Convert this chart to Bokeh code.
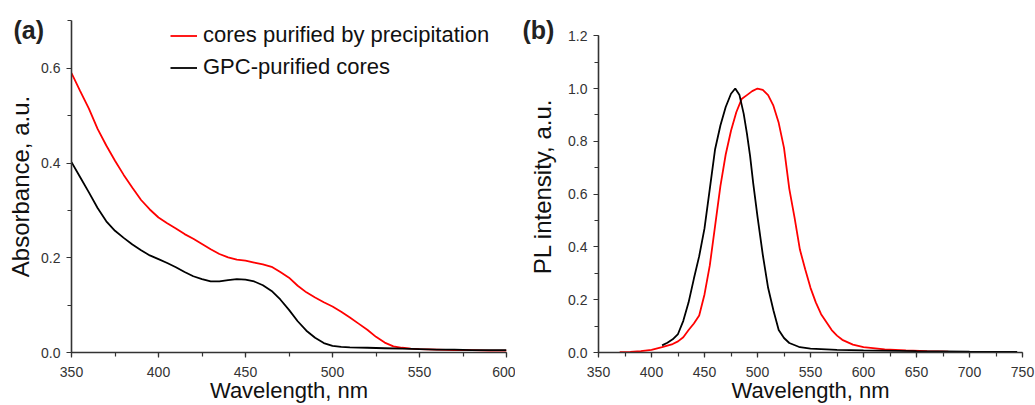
from bokeh.plotting import figure
from bokeh.models import Title, SingleIntervalTicker, PrintfTickFormatter, Range1d
from bokeh.layouts import row
from bokeh.embed import file_html
from bokeh.resources import INLINE

# ---- (a) absorbance ----
abs_wl_precip = [350, 355, 360, 365, 370, 375, 380, 385, 390, 395, 400, 405, 410, 415, 420, 425, 430, 435,
                 440, 445, 450, 455, 460, 465, 470, 475, 480, 485, 490, 495, 500, 505, 510, 515, 520, 525,
                 530, 535, 540, 545, 550, 560, 570, 580, 590, 600]
abs_precip = [0.590, 0.552, 0.515, 0.472, 0.437, 0.405, 0.375, 0.348, 0.322, 0.302, 0.285, 0.273, 0.262, 0.250,
              0.240, 0.229, 0.218, 0.208, 0.201, 0.196, 0.194, 0.190, 0.186, 0.181, 0.170, 0.158, 0.141, 0.127,
              0.116, 0.106, 0.097, 0.086, 0.074, 0.061, 0.048, 0.033, 0.021, 0.013, 0.010, 0.008, 0.007, 0.006,
              0.005, 0.005, 0.004, 0.004]

abs_wl_gpc = [350, 355, 360, 365, 370, 375, 380, 385, 390, 395, 400, 405, 410, 415, 420, 425, 430, 435, 440,
              445, 450, 455, 460, 465, 470, 475, 480, 485, 490, 495, 500, 505, 510, 520, 530, 540, 550, 560,
              570, 580, 590, 600]
abs_gpc = [0.402, 0.370, 0.338, 0.305, 0.277, 0.257, 0.242, 0.228, 0.216, 0.205, 0.197, 0.189, 0.180, 0.170,
           0.161, 0.155, 0.150, 0.150, 0.153, 0.155, 0.154, 0.150, 0.142, 0.130, 0.112, 0.090, 0.066, 0.046,
           0.031, 0.020, 0.014, 0.012, 0.011, 0.010, 0.009, 0.008, 0.007, 0.006, 0.006, 0.005, 0.005, 0.005]

# ---- (b) photoluminescence ----
pl_wl_gpc = [410, 415, 420, 425, 430, 435, 440, 445, 450, 455, 460, 465, 470, 475, 479, 483, 487, 490, 493,
             496, 500, 505, 510, 515, 520, 525, 530, 540, 550, 575, 600, 650, 700, 745]
pl_gpc = [0.027, 0.037, 0.050, 0.070, 0.120, 0.190, 0.280, 0.365, 0.470, 0.620, 0.770, 0.860, 0.930, 0.980,
          1.000, 0.975, 0.904, 0.830, 0.745, 0.640, 0.515, 0.370, 0.245, 0.160, 0.085, 0.055, 0.036, 0.020,
          0.015, 0.010, 0.008, 0.005, 0.003, 0.002]

pl_wl_precip = [370, 380, 390, 400, 410, 420, 425, 430, 435, 440, 445, 450, 455, 460, 465, 470, 475, 480, 485,
                490, 495, 500, 505, 510, 515, 520, 525, 530, 535, 540, 545, 550, 555, 560, 570, 575, 580, 590,
                600, 620, 640, 660, 680, 700]
pl_precip = [0.001, 0.002, 0.005, 0.010, 0.020, 0.032, 0.042, 0.058, 0.085, 0.110, 0.140, 0.220, 0.330, 0.480,
             0.630, 0.750, 0.840, 0.910, 0.960, 0.975, 0.990, 1.000, 0.995, 0.975, 0.935, 0.870, 0.775, 0.620,
             0.510, 0.390, 0.315, 0.245, 0.190, 0.145, 0.085, 0.064, 0.048, 0.030, 0.020, 0.012, 0.008, 0.005,
             0.003, 0.002]

FONT = "Liberation Sans"
RED = "#ff0000"
BLACK = "#000000"
AX = "#333333"
TXT = "#111111"


def style(p, xint, yint, ylabel, ylabel_standoff):
    p.outline_line_color = None
    p.grid.visible = False
    p.background_fill_color = "white"
    p.border_fill_color = "white"
    p.xaxis.ticker = SingleIntervalTicker(interval=xint, num_minor_ticks=2)
    p.yaxis.ticker = SingleIntervalTicker(interval=yint, num_minor_ticks=2)
    p.yaxis.formatter = PrintfTickFormatter(format="%.1f")
    for ax in (p.xaxis, p.yaxis):
        ax.axis_line_color = AX
        ax.axis_line_width = 1.6
        ax.major_tick_line_color = AX
        ax.minor_tick_line_color = AX
        ax.major_tick_line_width = 1.2
        ax.minor_tick_line_width = 1.2
        ax.major_tick_in = 0
        ax.major_tick_out = 5
        ax.minor_tick_in = 0
        ax.minor_tick_out = 4
        ax.major_label_text_font = FONT
        ax.major_label_text_font_size = "14px"
        ax.major_label_text_color = "#333333"
        ax.axis_label_text_font = FONT
        ax.axis_label_text_font_style = "normal"
        ax.axis_label_text_color = TXT
    p.xaxis.major_label_standoff = 9
    p.yaxis.major_label_standoff = 6
    p.yaxis.axis_label = ylabel
    p.yaxis.axis_label_text_font_size = "24px"
    p.yaxis.axis_label_standoff = ylabel_standoff
    # x-axis title, placed below the axis
    p.add_layout(Title(text="Wavelength, nm", align="center", vertical_align="top", standoff=-4,
                       text_font=FONT, text_font_size="22px", text_font_style="normal",
                       text_color=TXT), "below")


def tag(p, text, offset):
    p.add_layout(Title(text=text, align="left", offset=offset, standoff=-46, vertical_align="bottom",
                       text_font=FONT, text_font_size="25px", text_font_style="bold",
                       text_color="#222222"), "above")


H = 405

# left panel
pa = figure(width=515, height=H, output_backend="svg", toolbar_location=None,
            x_range=Range1d(350, 600), y_range=Range1d(0, 0.701),
            min_border_left=71, min_border_right=9, min_border_top=20, min_border_bottom=53)
style(pa, 50, 0.2, "Absorbance, a.u.", 4)
pa.line(abs_wl_precip, abs_precip, line_color=RED, line_width=1.8, legend_label="cores purified by precipitation")
pa.line(abs_wl_gpc, abs_gpc, line_color=BLACK, line_width=1.8, legend_label="GPC-purified cores")
lg = pa.legend[0]
lg.location = (99, 272)
lg.border_line_color = None
lg.background_fill_alpha = 0
lg.padding = 0
lg.spacing = 6
lg.glyph_width = 27
lg.glyph_height = 25
lg.label_height = 25
lg.label_standoff = 6
lg.label_text_font = FONT
lg.label_text_font_size = "22px"
lg.label_text_color = TXT
tag(pa, "(a)", -58)

# right panel
pb = figure(width=520, height=H, output_backend="svg", toolbar_location=None,
            x_range=Range1d(350, 750), y_range=Range1d(0, 1.2576),
            min_border_left=83, min_border_right=13, min_border_top=20, min_border_bottom=53)
style(pb, 50, 0.2, "PL intensity, a.u.", 9)
pb.yaxis.bounds = (0, 1.201)
pb.line(pl_wl_precip, pl_precip, line_color=RED, line_width=1.8)
pb.line(pl_wl_gpc, pl_gpc, line_color=BLACK, line_width=1.8)
tag(pb, "(b)", -76)

layout = row(pa, pb)
open("out.html", "w").write(file_html(layout, INLINE))
